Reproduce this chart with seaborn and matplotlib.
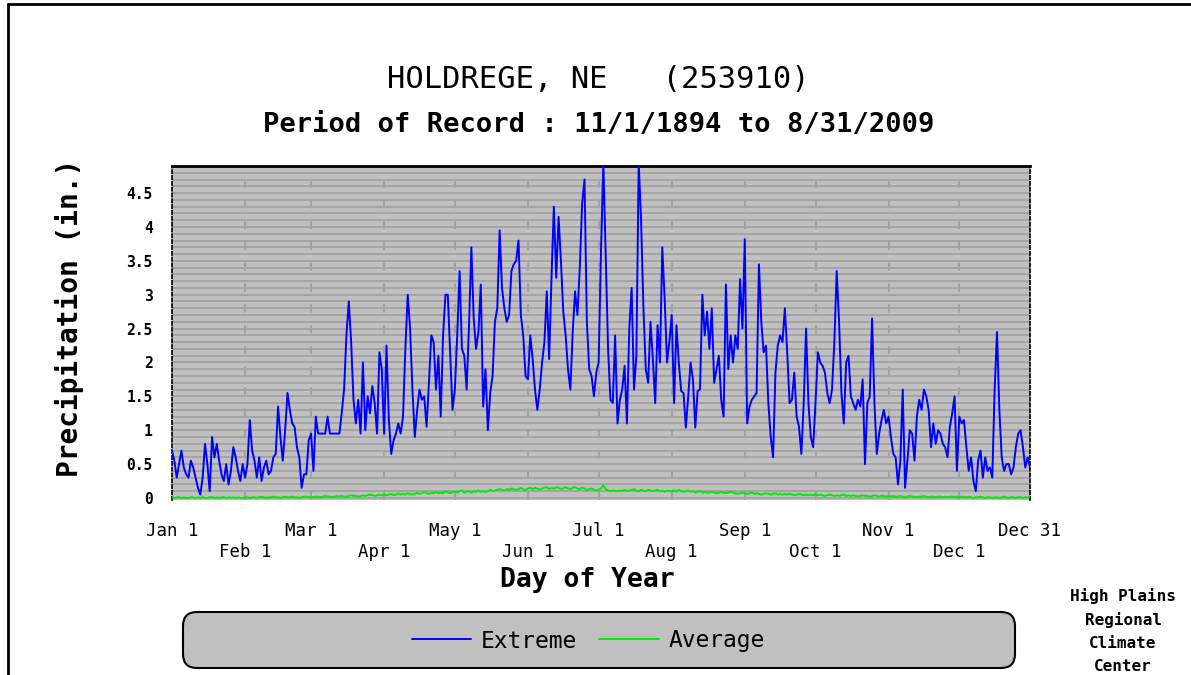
import numpy as np
import matplotlib
matplotlib.use("Agg")
import matplotlib.pyplot as plt
import matplotlib.ticker as mticker
from matplotlib.patches import FancyBboxPatch
from matplotlib.lines import Line2D
from matplotlib.transforms import IdentityTransform
import seaborn as sns

station = "HOLDREGE, NE   (253910)"
period = "Period of Record : 11/1/1894 to 8/31/2009"
credit_lines = ["High Plains", "Regional", "Climate", "Center"]

month_days = [0, 31, 59, 90, 120, 151, 181, 212, 243, 273, 304, 334, 364]
month_labels = ["Jan 1", "Feb 1", "Mar 1", "Apr 1", "May 1", "Jun 1", "Jul 1",
                "Aug 1", "Sep 1", "Oct 1", "Nov 1", "Dec 1", "Dec 31"]

# daily extreme precipitation (in.)
extreme_jan = [0.7, 0.55, 0.3, 0.5, 0.7, 0.45, 0.35, 0.3, 0.55, 0.45, 0.3, 0.15, 0.05, 0.3, 0.8, 0.5,
               0.1, 0.9, 0.6, 0.8, 0.55, 0.35, 0.25, 0.5, 0.2, 0.4, 0.75, 0.6, 0.4, 0.25, 0.5]
extreme_feb = [0.3, 0.5, 1.15, 0.7, 0.55, 0.3, 0.6, 0.25, 0.45, 0.55, 0.35, 0.4, 0.6, 0.65, 1.35, 0.9,
               0.55, 1.0, 1.55, 1.3, 1.1, 1.05, 0.75, 0.6, 0.15, 0.35, 0.35, 0.85]
extreme_mar = [0.95, 0.4, 1.2, 0.95, 0.95, 0.95, 0.95, 1.2, 0.95, 0.95, 0.95, 0.95, 0.95, 1.25, 1.6, 2.4,
               2.9, 2.3, 1.45, 1.1, 1.45, 0.95, 2.0, 1.0, 1.5, 1.25, 1.65, 1.4, 0.95, 2.15, 1.9]
extreme_apr = [0.95, 2.25, 1.15, 0.65, 0.85, 0.95, 1.1, 0.95, 1.2, 2.2, 3.0, 2.5, 1.6, 0.9, 1.3, 1.6,
               1.45, 1.5, 1.05, 1.7, 2.4, 2.3, 1.6, 2.1, 1.2, 2.4, 3.0, 3.0, 2.15, 1.3]
extreme_may = [1.6, 2.4, 3.35, 2.2, 2.1, 1.6, 2.55, 3.7, 2.65, 2.2, 2.45, 3.15, 1.35, 1.9, 1.0, 1.55,
               1.8, 2.6, 2.8, 3.95, 3.1, 2.8, 2.6, 2.7, 3.35, 3.45, 3.5, 3.8, 2.7, 2.4, 1.8]
extreme_jun = [1.75, 2.4, 2.05, 1.6, 1.3, 1.6, 2.0, 2.3, 3.05, 2.05, 3.25, 4.3, 3.25, 4.15, 3.5, 2.75,
               2.4, 1.9, 1.6, 2.45, 3.05, 2.7, 3.4, 4.35, 4.7, 2.6, 1.9, 1.8, 1.5, 1.85]
extreme_jul = [2.0, 3.65, 4.95, 3.55, 2.2, 1.45, 1.4, 2.4, 1.1, 1.45, 1.6, 1.95, 1.1, 2.5, 3.1, 1.6,
               2.1, 4.95, 4.1, 2.8, 1.9, 1.7, 2.6, 2.05, 1.4, 2.55, 2.0, 3.7, 2.95, 2.0, 2.3]
extreme_aug = [2.7, 1.4, 2.55, 2.0, 1.58, 1.55, 1.04, 1.5, 2.0, 1.75, 1.04, 1.58, 1.6, 3.0, 2.4, 2.75,
               2.2, 2.8, 1.7, 1.9, 2.1, 1.45, 1.2, 3.15, 1.9, 2.4, 2.0, 2.4, 2.2, 3.23, 2.5]
extreme_sep = [3.82, 1.1, 1.35, 1.45, 1.5, 1.55, 3.45, 2.6, 2.15, 2.25, 1.4, 0.9, 0.6, 1.85, 2.25, 2.4,
               2.3, 2.8, 2.15, 1.4, 1.45, 1.85, 1.2, 1.05, 0.65, 1.4, 2.5, 1.4, 0.9, 0.75]
extreme_oct = [1.4, 2.15, 2.0, 1.95, 1.85, 1.55, 1.4, 1.6, 2.3, 3.35, 2.6, 1.55, 1.1, 2.0, 2.1, 1.5,
               1.4, 1.3, 1.45, 1.35, 1.75, 0.5, 1.4, 1.5, 2.65, 1.4, 0.65, 0.95, 1.15, 1.3, 1.1]
extreme_nov = [1.2, 0.9, 0.65, 0.6, 0.2, 0.55, 1.6, 0.15, 0.55, 1.0, 0.95, 0.55, 1.2, 1.45, 1.3, 1.6,
               1.5, 1.3, 0.75, 1.1, 0.8, 1.0, 0.95, 0.8, 0.75, 0.6, 1.05, 1.25, 1.5, 0.4]
extreme_dec = [1.2, 1.1, 1.15, 0.75, 0.4, 0.6, 0.25, 0.1, 0.55, 0.7, 0.3, 0.6, 0.4, 0.45, 0.3, 1.6,
               2.45, 1.3, 0.6, 0.4, 0.5, 0.5, 0.35, 0.45, 0.75, 0.95, 1.0, 0.75, 0.45, 0.6, 0.45]

# daily average precipitation (in.)
average_jan = [0.01, 0.0, 0.01, 0.01, 0.0, 0.01, 0.0, 0.0, 0.01, 0.01, 0.0, 0.01, 0.0, 0.01, 0.0, 0.0,
               0.01, 0.01, 0.0, 0.01, 0.0, 0.01, 0.01, 0.0, 0.01, 0.0, 0.01, 0.0, 0.01, 0.0, 0.0]
average_feb = [0.01, 0.01, 0.0, 0.01, 0.01, 0.0, 0.01, 0.02, 0.01, 0.0, 0.01, 0.01, 0.02, 0.01, 0.01, 0.0,
               0.01, 0.02, 0.01, 0.01, 0.02, 0.01, 0.01, 0.0, 0.01, 0.02, 0.02, 0.01]
average_mar = [0.02, 0.01, 0.02, 0.02, 0.01, 0.02, 0.03, 0.02, 0.02, 0.01, 0.02, 0.03, 0.02, 0.03, 0.02, 0.02,
               0.03, 0.04, 0.03, 0.03, 0.02, 0.03, 0.04, 0.03, 0.04, 0.05, 0.04, 0.03, 0.04, 0.05, 0.04]
average_apr = [0.05, 0.04, 0.05, 0.06, 0.04, 0.05, 0.07, 0.05, 0.06, 0.05, 0.07, 0.06, 0.05, 0.06, 0.08, 0.06,
               0.07, 0.09, 0.07, 0.06, 0.08, 0.07, 0.09, 0.07, 0.08, 0.07, 0.1, 0.08, 0.07, 0.09]
average_may = [0.09, 0.08, 0.1, 0.11, 0.08, 0.09, 0.1, 0.08, 0.1, 0.09, 0.11, 0.09, 0.1, 0.09, 0.1, 0.12,
               0.1, 0.11, 0.12, 0.13, 0.12, 0.11, 0.13, 0.12, 0.14, 0.13, 0.12, 0.13, 0.15, 0.13, 0.12]
average_jun = [0.14, 0.15, 0.13, 0.15, 0.14, 0.12, 0.14, 0.15, 0.16, 0.13, 0.15, 0.14, 0.16, 0.15, 0.13, 0.14,
               0.16, 0.14, 0.13, 0.15, 0.16, 0.14, 0.13, 0.15, 0.14, 0.12, 0.13, 0.14, 0.12, 0.11]
average_jul = [0.12, 0.14, 0.19, 0.13, 0.11, 0.1, 0.11, 0.1, 0.1, 0.11, 0.1, 0.12, 0.1, 0.11, 0.12, 0.13,
               0.11, 0.1, 0.12, 0.11, 0.1, 0.12, 0.11, 0.1, 0.11, 0.12, 0.1, 0.11, 0.09, 0.11, 0.1]
average_aug = [0.1, 0.11, 0.09, 0.12, 0.1, 0.09, 0.1, 0.11, 0.09, 0.1, 0.08, 0.09, 0.1, 0.08, 0.09, 0.08,
               0.08, 0.09, 0.08, 0.07, 0.08, 0.09, 0.08, 0.07, 0.08, 0.09, 0.08, 0.07, 0.06, 0.07, 0.08]
average_sep = [0.07, 0.06, 0.07, 0.08, 0.06, 0.07, 0.06, 0.05, 0.06, 0.07, 0.06, 0.05, 0.06, 0.07, 0.05, 0.06,
               0.05, 0.06, 0.05, 0.06, 0.05, 0.04, 0.05, 0.06, 0.05, 0.04, 0.05, 0.04, 0.05, 0.04]
average_oct = [0.05, 0.04, 0.05, 0.04, 0.03, 0.04, 0.05, 0.04, 0.03, 0.04, 0.03, 0.04, 0.05, 0.03, 0.04, 0.03,
               0.04, 0.03, 0.02, 0.03, 0.04, 0.03, 0.03, 0.02, 0.03, 0.04, 0.03, 0.02, 0.03, 0.03, 0.02]
average_nov = [0.03, 0.02, 0.03, 0.02, 0.02, 0.03, 0.02, 0.01, 0.02, 0.03, 0.02, 0.02, 0.01, 0.02, 0.02, 0.03,
               0.02, 0.01, 0.02, 0.02, 0.01, 0.02, 0.02, 0.01, 0.02, 0.01, 0.02, 0.02, 0.01, 0.02]
average_dec = [0.01, 0.02, 0.01, 0.01, 0.02, 0.01, 0.0, 0.01, 0.01, 0.02, 0.01, 0.0, 0.01, 0.01, 0.0, 0.01,
               0.01, 0.0, 0.01, 0.02, 0.01, 0.0, 0.01, 0.01, 0.0, 0.01, 0.01, 0.0, 0.01, 0.01, 0.02]

extreme = (extreme_jan + extreme_feb + extreme_mar + extreme_apr + extreme_may + extreme_jun
           + extreme_jul + extreme_aug + extreme_sep + extreme_oct + extreme_nov + extreme_dec)
average = (average_jan + average_feb + average_mar + average_apr + average_may + average_jun
           + average_jul + average_aug + average_sep + average_oct + average_nov + average_dec)
days = np.arange(len(extreme))

sns.set_style("white")
plt.rcParams["font.family"] = ["DejaVu Sans Mono"]
plt.rcParams["text.color"] = "black"
plt.rcParams["xtick.color"] = "black"
plt.rcParams["ytick.color"] = "black"

W, H = 1191, 675
fig = plt.figure(figsize=(W / 100, H / 100), dpi=100)
ax = fig.add_axes([172 / W, 1 - 500 / H, 858 / W, 334 / H])
ax.set_facecolor("#c0c0c0")

sns.lineplot(x=days, y=extreme, ax=ax, color="#0000ff", lw=1.4,
             estimator=None, label="Extreme", zorder=3)
sns.lineplot(x=days[:len(average)], y=average, ax=ax, color="#00ee00", lw=1.4,
             estimator=None, label="Average", zorder=3)

ax.set_xlim(0, 364)
ax.set_ylim(-0.03, 4.9)
ax.set_xticks(month_days)
ax.set_xticklabels([lab if i % 2 == 0 else "\n" + lab for i, lab in enumerate(month_labels)],
                   fontsize=12.5)
ax.yaxis.set_major_locator(mticker.MultipleLocator(0.5))
ax.yaxis.set_minor_locator(mticker.MultipleLocator(0.1))
ax.yaxis.set_major_formatter(mticker.FuncFormatter(lambda v, p: f"{v:g}"))
for lab in ax.get_yticklabels():
    lab.set_fontweight("bold")
    lab.set_fontsize(10.5)
ax.tick_params(axis="both", length=0)
ax.tick_params(axis="x", pad=16)
ax.tick_params(axis="y", pad=14)
ax.grid(axis="y", which="both", color="#a2a2a2", lw=1.3, zorder=1)
ax.grid(axis="x", which="major", color="#a2a2a2", lw=1.5, linestyle=(0, (4, 6)), zorder=1)
ax.set_xlabel("")
ax.set_ylabel("")

ax.spines["top"].set_color("black")
ax.spines["top"].set_linewidth(2)
for side in ["left", "right"]:
    ax.spines[side].set_color("black")
    ax.spines[side].set_linewidth(1.2)
    ax.spines[side].set_linestyle((0, (2, 1.5)))
ax.spines["bottom"].set_visible(False)

handles, labels = ax.get_legend_handles_labels()
ax.get_legend().remove()

# titles and axis names
fig.text(598 / W, 1 - 80 / H, station, ha="center", va="center", fontsize=22)
fig.text(599 / W, 1 - 125 / H, period, ha="center", va="center", fontsize=19.5, fontweight="bold")
fig.text(70 / W, 1 - 318 / H, "Precipitation (in.)", ha="center", va="center",
         rotation=90, fontsize=20, fontweight="bold")
fig.text(587 / W, 1 - 580 / H, "Day of Year", ha="center", va="center",
         fontsize=19, fontweight="bold")

# legend box
box = FancyBboxPatch((183, H - 668), 832, 56, boxstyle="round,pad=0,rounding_size=14",
                     transform=IdentityTransform(), facecolor="#c0c0c0", edgecolor="black", lw=1.5)
fig.add_artist(box)
fig.legend(handles, labels, loc="center", bbox_to_anchor=(588 / W, 1 - 641 / H), ncol=2,
           frameon=False, fontsize=16.5, handlelength=2.6, handletextpad=0.4, columnspacing=1.0)

for line, base in zip(credit_lines, [601, 625, 648, 671]):
    fig.text(1123 / W, 1 - base / H, line, ha="center", va="baseline",
             fontsize=11.5, fontweight="bold")

# outer frame
fig.add_artist(Line2D([8, W], [H - 4, H - 4], transform=IdentityTransform(), color="black", lw=2))
fig.add_artist(Line2D([8, 8], [0, H - 4], transform=IdentityTransform(), color="black", lw=2))

fig.savefig("out.png", dpi=100)
